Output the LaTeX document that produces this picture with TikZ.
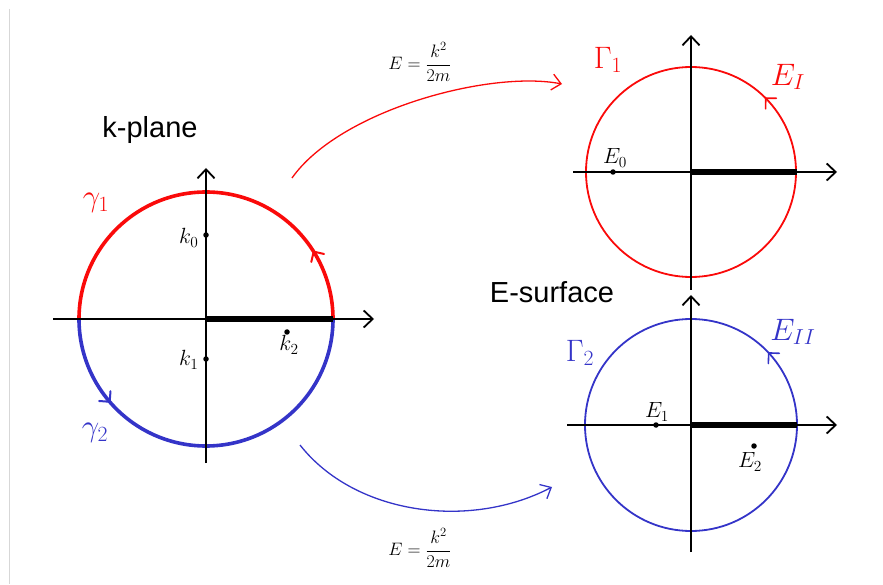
\RequirePackage{fix-cm}
\documentclass[tikz,border=0pt]{standalone}
\usepackage{fontspec}
\setsansfont{Liberation Sans}
\usetikzlibrary{arrows.meta,decorations.markings}
\definecolor{myred}{RGB}{250,10,10}
\definecolor{myblue}{RGB}{52,52,200}
\tikzset{
  axis/.style={line width=1.8pt,-{Straight Barb[length=9pt,width=17pt,line width=1.8pt]}},
  cut/.style={line width=5.5pt},
  dot/.style={circle,fill=black,inner sep=0pt,minimum size=5.5pt},
  biglbl/.style={font=\fontsize{31}{36}\selectfont},
  smalllbl/.style={font=\fontsize{22}{26}\selectfont},
  fraclbl/.style={font=\fontsize{18}{21}\selectfont},
  title/.style={font=\sffamily\fontsize{29}{34}\selectfont},
  connector/.style={line width=1.3pt,-{Straight Barb[length=9pt,width=16pt,line width=1.3pt]}},
  midarrow/.style n args={2}{postaction={decorate},decoration={markings,
     mark=at position #1 with {\draw[line width=#2,line cap=round,line join=round] (-7.5pt,7.5pt) -- (0pt,0pt) -- (-7.5pt,-7.5pt);}}},
}
\begin{document}
\begin{tikzpicture}[x=1pt,y=1pt]
\useasboundingbox (0,0) rectangle (883,584);
\draw[color={rgb,255:red,215;green,215;blue,215},line width=1pt] (9.5,575) -- (9.5,0);

% ---------- k-plane ----------
\coordinate (L) at (206,265);
\draw[myred,line width=3.6pt,midarrow={0.178}{2pt}] (333,265) arc[start angle=0,end angle=180,radius=127];
\draw[myblue,line width=3.6pt,midarrow={0.226}{2pt}] (79,265) arc[start angle=180,end angle=360,radius=127];
\coordinate (Lxa) at (53,265);
\coordinate (Lxb) at (374,265);
\coordinate (Lya) at (206,121);
\coordinate (Lyb) at (206,416);
\coordinate (Lr) at (333,265);
\draw[axis] (Lxa) -- (Lxb);
\draw[axis] (Lya) -- (Lyb);
\draw[cut] (L) -- (Lr);
\node[dot] (k0) at (206,349) {};
\node[dot] (k1) at (206,225) {};
\node[dot] (k2) at (287,252) {};
\node[smalllbl,anchor=east] (k0l) at (202,346) {$k_0$};
\node[smalllbl,anchor=east] (k1l) at (202,224) {$k_1$};
\node[smalllbl] (k2l) at (289,239) {$k_2$};
\node[biglbl,myred] (g1) at (96,381) {$\gamma_1$};
\node[biglbl,myblue] (g2) at (95,151) {$\gamma_2$};
\node[title,anchor=base] (kp) at (150,446) {k-plane};

% ---------- E-surface, top ----------
\coordinate (T) at (691,412);
\draw[myred,line width=1.8pt,midarrow={0.124}{1.6pt}] (T) ++(105,0) arc[start angle=0,end angle=360,radius=105];
\coordinate (Txa) at (573,412);
\coordinate (Txb) at (837,412);
\coordinate (Tya) at (691,294);
\coordinate (Tyb) at (691,549);
\coordinate (Tr) at (797,412);
\draw[axis] (Txa) -- (Txb);
\draw[axis] (Tya) -- (Tyb);
\draw[cut] (T) -- (Tr);
\node[dot] (e0) at (613,412) {};
\node[smalllbl] (e0l) at (615,426) {$E_0$};
\node[biglbl,myred] (G1) at (608,524) {$\Gamma_1$};
\node[biglbl,myred] (EI) at (788,507) {$E_I$};

% ---------- E-surface, bottom ----------
\coordinate (B) at (691,159);
\draw[myblue,line width=1.8pt,midarrow={0.119}{1.6pt}] (B) ++(106,0) arc[start angle=0,end angle=360,radius=106];
\coordinate (Bxa) at (567,159);
\coordinate (Bxb) at (837,159);
\coordinate (Bya) at (691,32);
\coordinate (Byb) at (691,289);
\coordinate (Br) at (797,159);
\draw[axis] (Bxa) -- (Bxb);
\draw[axis] (Bya) -- (Byb);
\draw[cut] (B) -- (Br);
\node[dot] (e1) at (656,159) {};
\node[dot] (e2) at (754,138) {};
\node[smalllbl] (e1l) at (657,172) {$E_1$};
\node[smalllbl] (e2l) at (750,122) {$E_2$};
\node[biglbl,myblue] (G2) at (580,231) {$\Gamma_2$};
\node[biglbl,myblue] (EII) at (793,252) {$E_{II}$};
\node[title,anchor=base] (es) at (552,281) {E-surface};

% ---------- maps ----------
\coordinate (r0) at (292,406);
\coordinate (r1) at (562,500);
\draw[myred,connector] (r0) .. controls (340,474) and (490,514) .. (r1);
\node[fraclbl] (f1) at (420,522) {$\displaystyle E=\frac{k^2}{2m}$};
\coordinate (b0) at (300,139);
\coordinate (b1) at (552,97);
\draw[myblue,connector] (b0) .. controls (355,69) and (470,54) .. (b1);
\node[fraclbl] (f2) at (420,36) {$\displaystyle E=\frac{k^2}{2m}$};
\end{tikzpicture}
\end{document}
